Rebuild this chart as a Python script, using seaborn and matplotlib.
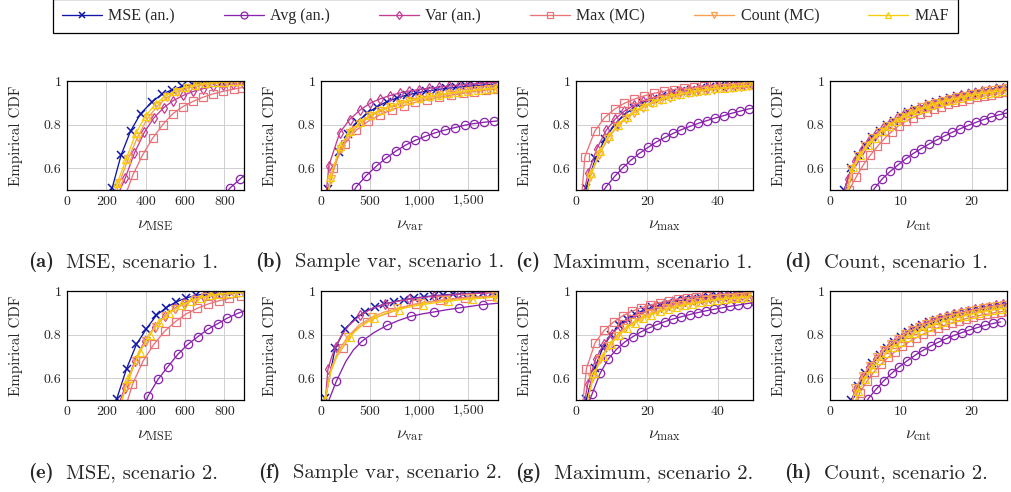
import matplotlib
matplotlib.use("Agg")
import matplotlib.pyplot as plt
import seaborn as sns
from matplotlib.lines import Line2D
from matplotlib.ticker import FuncFormatter

# ---------------------------------------------------------------- data
SERIES = ["mse", "avg", "var", "max", "count", "maf"]
LEGEND_LABELS = ["MSE (an.)", "Avg (an.)", "Var (an.)", "Max (MC)", "Count (MC)", "MAF"]

Y_TICKS = [0.6, 0.8, 1.0]
Y_TICK_LABELS = ["0.6", "0.8", "1"]

XTICKS_MSE = [0, 200, 400, 600, 800]
XTICKS_VAR = [0, 500, 1000, 1500]
XTICKS_MAX = [0, 20, 40]
XTICKS_CNT = [0, 10, 20]

CAPTION_TAGS = ["(a)", "(b)", "(c)", "(d)", "(e)", "(f)", "(g)", "(h)"]
CAPTION_TEXTS = ["MSE, scenario 1.", "Sample var, scenario 1.", "Maximum, scenario 1.",
                 "Count, scenario 1.", "MSE, scenario 2.", "Sample var, scenario 2.",
                 "Maximum, scenario 2.", "Count, scenario 2."]
XLABELS = [r"$\nu_{\mathrm{MSE}}$", r"$\nu_{\mathrm{var}}$", r"$\nu_{\max}$", r"$\nu_{\mathrm{cnt}}$"]

# (a) MSE, scenario 1
a_mse_x = [215, 230, 275, 323, 374, 433, 484, 535, 586, 637, 688, 739, 790, 841, 892]
a_mse_y = [0.47, 0.51, 0.66, 0.77, 0.85, 0.905, 0.94, 0.96, 0.975, 0.985, 0.99, 0.994, 0.996, 0.998, 0.999]
a_avg_x = [780, 830, 880, 930]
a_avg_y = [0.455, 0.51, 0.55, 0.59]
a_var_x = [255, 297, 343, 394, 441, 492, 540, 591, 642, 693, 744, 795, 846, 897]
a_var_y = [0.47, 0.557, 0.67, 0.766, 0.83, 0.878, 0.91, 0.934, 0.952, 0.965, 0.975, 0.982, 0.987, 0.99]
a_max_x = [290, 335, 384, 435, 487, 538, 588, 640, 690, 740, 791, 849, 892]
a_max_y = [0.46, 0.569, 0.66, 0.737, 0.80, 0.85, 0.882, 0.906, 0.925, 0.94, 0.952, 0.963, 0.97]
a_count_x = [240, 265, 310, 360, 410, 460, 510, 560, 610, 660, 710, 760, 810, 860, 910]
a_count_y = [0.46, 0.53, 0.64, 0.745, 0.83, 0.885, 0.925, 0.95, 0.967, 0.978, 0.986, 0.991, 0.994, 0.996, 0.998]
a_maf_x = [235, 255, 300, 350, 400, 450, 500, 550, 600, 650, 700, 750, 800, 850, 900]
a_maf_y = [0.46, 0.53, 0.64, 0.76, 0.84, 0.895, 0.93, 0.955, 0.972, 0.983, 0.99, 0.994, 0.996, 0.998, 0.999]

# (b) sample variance, scenario 1
b_mse_x = [70, 180, 270, 370, 470, 570, 670, 770, 870, 970, 1070, 1170, 1270, 1370, 1470, 1570, 1670, 1770]
b_mse_y = [0.505, 0.674, 0.757, 0.812, 0.852, 0.882, 0.905, 0.922, 0.935, 0.945, 0.953, 0.96, 0.966, 0.971, 0.975, 0.979, 0.982, 0.985]
b_avg_x = [300, 360, 460, 560, 660, 760, 860, 960, 1060, 1160, 1260, 1360, 1460, 1560, 1660, 1760, 1860]
b_avg_y = [0.47, 0.515, 0.566, 0.608, 0.646, 0.678, 0.706, 0.728, 0.746, 0.762, 0.775, 0.786, 0.797, 0.805, 0.811, 0.815, 0.82]
b_var_x = [50, 80, 190, 290, 400, 500, 600, 700, 800, 900, 1000, 1100, 1200, 1300, 1400, 1500, 1600, 1700, 1790]
b_var_y = [0.47, 0.612, 0.762, 0.823, 0.868, 0.898, 0.918, 0.933, 0.945, 0.954, 0.961, 0.967, 0.972, 0.977, 0.981, 0.985, 0.988, 0.991, 0.994]
b_max_x = [60, 120, 240, 360, 480, 600, 720, 840, 960, 1080, 1200, 1320, 1440, 1560, 1680, 1790]
b_max_y = [0.47, 0.60, 0.712, 0.775, 0.815, 0.845, 0.868, 0.887, 0.902, 0.915, 0.926, 0.935, 0.943, 0.951, 0.958, 0.964]
b_count_x = [70, 100, 200, 300, 400, 500, 600, 700, 800, 900, 1000, 1100, 1200, 1300, 1400, 1500, 1600, 1700, 1790]
b_count_y = [0.47, 0.55, 0.69, 0.76, 0.805, 0.838, 0.862, 0.88, 0.895, 0.907, 0.917, 0.926, 0.934, 0.941, 0.947, 0.952, 0.957, 0.962, 0.966]
b_maf_x = [70, 95, 195, 295, 395, 495, 595, 695, 795, 895, 995, 1095, 1195, 1295, 1395, 1495, 1595, 1695, 1785]
b_maf_y = [0.47, 0.56, 0.70, 0.77, 0.812, 0.843, 0.866, 0.884, 0.899, 0.911, 0.921, 0.929, 0.937, 0.944, 0.95, 0.955, 0.96, 0.965, 0.969]

# (c) maximum, scenario 1
c_mse_x = [2.8, 5.5, 8.2, 10.9, 13.6, 16.3, 19.0, 21.7, 24.4, 27.1, 29.8, 32.5, 35.2, 37.9, 40.6, 43.3, 46.0, 48.7]
c_mse_y = [0.508, 0.645, 0.735, 0.80, 0.845, 0.877, 0.90, 0.918, 0.932, 0.943, 0.952, 0.96, 0.966, 0.971, 0.976, 0.98, 0.983, 0.986]
c_avg_x = [6.7, 8.5, 10.9, 13.3, 15.6, 18.0, 20.4, 22.7, 25.1, 27.5, 29.8, 32.2, 34.6, 36.9, 39.3, 41.7, 44.0, 46.4, 48.8, 51.0]
c_avg_y = [0.47, 0.515, 0.562, 0.603, 0.638, 0.669, 0.696, 0.72, 0.741, 0.76, 0.777, 0.792, 0.806, 0.818, 0.83, 0.841, 0.852, 0.862, 0.872, 0.878]
c_var_x = [2.0, 3.4, 5.9, 8.5, 11.1, 13.7, 16.3, 18.9, 21.5, 24.1, 26.7, 29.3, 31.9, 34.5, 37.1, 39.7, 42.3, 44.9, 47.5, 50.1]
c_var_y = [0.47, 0.576, 0.69, 0.773, 0.826, 0.862, 0.888, 0.907, 0.922, 0.934, 0.944, 0.952, 0.959, 0.965, 0.97, 0.975, 0.979, 0.982, 0.985, 0.988]
c_max_x = [1.6, 2.5, 5.3, 8.1, 10.9, 13.7, 16.5, 19.3, 22.1, 24.9, 27.7, 30.5, 33.3, 36.1, 38.9, 41.7, 44.5, 47.3, 50.1]
c_max_y = [0.47, 0.652, 0.77, 0.833, 0.871, 0.898, 0.917, 0.932, 0.944, 0.953, 0.961, 0.967, 0.972, 0.977, 0.981, 0.984, 0.987, 0.989, 0.991]
c_count_x = [3.0, 4.0, 6.5, 9.0, 11.5, 14.0, 16.5, 19.0, 21.5, 24.0, 26.5, 29.0, 31.5, 34.0, 36.5, 39.0, 41.5, 44.0, 46.5, 49.0]
c_count_y = [0.47, 0.56, 0.66, 0.735, 0.787, 0.826, 0.855, 0.878, 0.897, 0.912, 0.924, 0.934, 0.943, 0.95, 0.956, 0.961, 0.966, 0.97, 0.974, 0.977]
c_maf_x = [3.0, 4.3, 6.8, 9.3, 11.8, 14.3, 16.8, 19.3, 21.8, 24.3, 26.8, 29.3, 31.8, 34.3, 36.8, 39.3, 41.8, 44.3, 46.8, 49.3]
c_maf_y = [0.47, 0.58, 0.68, 0.75, 0.80, 0.837, 0.865, 0.887, 0.905, 0.919, 0.931, 0.94, 0.948, 0.955, 0.961, 0.966, 0.97, 0.974, 0.977, 0.98]

# (d) count, scenario 1
d_mse_x = [2, 3, 4, 5, 6, 7, 8, 9, 10, 11, 12, 13, 14, 15, 16, 17, 18, 19, 20, 21, 22, 23, 24, 25]
d_mse_y = [0.50, 0.60, 0.66, 0.705, 0.742, 0.772, 0.797, 0.818, 0.84, 0.856, 0.87, 0.883, 0.895, 0.905, 0.914, 0.922, 0.93, 0.937, 0.944, 0.95, 0.956, 0.961, 0.966, 0.97]
d_avg_x = [5.5, 6.3, 7.4, 8.5, 9.6, 10.7, 11.8, 12.9, 14.0, 15.1, 16.2, 17.3, 18.4, 19.5, 20.6, 21.7, 22.8, 23.9, 25.0]
d_avg_y = [0.47, 0.508, 0.552, 0.585, 0.615, 0.643, 0.668, 0.69, 0.711, 0.73, 0.748, 0.765, 0.781, 0.796, 0.81, 0.823, 0.835, 0.845, 0.853]
d_var_x = [1.8, 2.5, 3.5, 4.5, 5.5, 6.5, 7.5, 8.5, 9.5, 10.5, 11.5, 12.5, 13.5, 14.5, 15.5, 16.5, 17.5, 18.5, 19.5, 20.5, 21.5, 22.5, 23.5, 24.5]
d_var_y = [0.47, 0.55, 0.635, 0.685, 0.725, 0.758, 0.786, 0.809, 0.83, 0.849, 0.864, 0.877, 0.89, 0.9, 0.91, 0.918, 0.926, 0.934, 0.941, 0.947, 0.953, 0.958, 0.963, 0.968]
d_max_x = [2.7, 3.7, 4.7, 5.7, 6.7, 7.7, 8.7, 9.7, 10.7, 11.7, 12.7, 13.7, 14.7, 15.7, 16.7, 17.7, 18.7, 19.7, 20.7, 21.7, 22.7, 23.7, 24.7]
d_max_y = [0.50, 0.56, 0.615, 0.66, 0.70, 0.736, 0.768, 0.795, 0.815, 0.832, 0.847, 0.86, 0.872, 0.883, 0.893, 0.902, 0.91, 0.918, 0.925, 0.932, 0.938, 0.944, 0.95]
d_count_x = [2.2, 3, 4, 5, 6, 7, 8, 9, 10, 11, 12, 13, 14, 15, 16, 17, 18, 19, 20, 21, 22, 23, 24, 25]
d_count_y = [0.47, 0.595, 0.655, 0.70, 0.737, 0.767, 0.792, 0.814, 0.835, 0.852, 0.866, 0.879, 0.891, 0.901, 0.91, 0.918, 0.926, 0.933, 0.94, 0.946, 0.952, 0.957, 0.962, 0.967]
d_maf_x = [2.3, 3.3, 4.3, 5.3, 6.3, 7.3, 8.3, 9.3, 10.3, 11.3, 12.3, 13.3, 14.3, 15.3, 16.3, 17.3, 18.3, 19.3, 20.3, 21.3, 22.3, 23.3, 24.3]
d_maf_y = [0.47, 0.605, 0.66, 0.705, 0.74, 0.77, 0.795, 0.816, 0.835, 0.851, 0.865, 0.877, 0.888, 0.898, 0.907, 0.915, 0.922, 0.929, 0.935, 0.941, 0.946, 0.951, 0.956]

# (e) MSE, scenario 2
e_mse_x = [235, 252, 303, 353, 404, 454, 505, 555, 606, 656, 707, 757, 808, 858]
e_mse_y = [0.46, 0.503, 0.644, 0.755, 0.827, 0.888, 0.924, 0.95, 0.968, 0.98, 0.988, 0.993, 0.996, 0.998]
e_avg_x = [390, 412, 463, 513, 564, 614, 665, 715, 766, 816, 867, 920]
e_avg_y = [0.47, 0.518, 0.595, 0.653, 0.71, 0.755, 0.79, 0.824, 0.85, 0.876, 0.897, 0.915]
e_var_x = [255, 294, 345, 395, 446, 496, 547, 597, 648, 698, 749, 799, 850, 900]
e_var_y = [0.46, 0.556, 0.68, 0.77, 0.835, 0.885, 0.92, 0.945, 0.962, 0.974, 0.983, 0.99, 0.994, 0.996]
e_max_x = [295, 333, 387, 441, 496, 552, 606, 661, 716, 771, 826, 883]
e_max_y = [0.46, 0.572, 0.679, 0.755, 0.815, 0.86, 0.895, 0.92, 0.94, 0.955, 0.966, 0.975]
e_count_x = [268, 300, 350, 400, 450, 500, 550, 600, 650, 700, 750, 800, 850, 900]
e_count_y = [0.46, 0.56, 0.68, 0.77, 0.837, 0.885, 0.918, 0.942, 0.96, 0.972, 0.981, 0.987, 0.991, 0.994]
e_maf_x = [265, 311, 370, 420, 470, 521, 580, 630, 680, 730, 780, 830, 880]
e_maf_y = [0.46, 0.60, 0.72, 0.80, 0.858, 0.90, 0.935, 0.955, 0.97, 0.98, 0.987, 0.992, 0.995]

# (f) sample variance, scenario 2
f_mse_x = [45, 145, 245, 345, 445, 545, 645, 745, 845, 945, 1045, 1145, 1245, 1345, 1445, 1545, 1645, 1745]
f_mse_y = [0.51, 0.74, 0.825, 0.873, 0.905, 0.925, 0.94, 0.951, 0.96, 0.967, 0.973, 0.978, 0.982, 0.985, 0.988, 0.99, 0.992, 0.994]
f_avg_x = [55, 155, 250, 330, 415, 540, 670, 790, 915, 1030, 1150, 1280, 1405, 1525, 1650, 1780, 1900]
f_avg_y = [0.47, 0.585, 0.675, 0.73, 0.769, 0.81, 0.842, 0.865, 0.884, 0.895, 0.904, 0.914, 0.922, 0.93, 0.938, 0.943, 0.946]
f_var_x = [45, 70, 110, 150, 200, 280, 400, 520, 650, 780, 900, 1030, 1150, 1280, 1400, 1530, 1650, 1780, 1900]
f_var_y = [0.50, 0.64, 0.70, 0.745, 0.79, 0.84, 0.89, 0.92, 0.94, 0.953, 0.963, 0.97, 0.976, 0.981, 0.985, 0.988, 0.99, 0.992, 0.993]
f_max_x = [40, 100, 160, 220, 330, 466, 590, 719, 840, 962, 1090, 1209, 1340, 1462, 1590, 1709, 1900]
f_max_y = [0.50, 0.64, 0.70, 0.74, 0.815, 0.858, 0.884, 0.904, 0.925, 0.94, 0.95, 0.958, 0.965, 0.97, 0.973, 0.975, 0.978]
f_count_x = [45, 100, 170, 270, 390, 520, 640, 770, 890, 1020, 1140, 1270, 1390, 1520, 1640, 1770, 1900]
f_count_y = [0.50, 0.64, 0.72, 0.79, 0.845, 0.88, 0.903, 0.92, 0.933, 0.943, 0.951, 0.958, 0.964, 0.969, 0.973, 0.977, 0.98]
f_maf_x = [40, 100, 170, 290, 410, 540, 660, 790, 910, 1040, 1160, 1290, 1410, 1540, 1660, 1790, 1900]
f_maf_y = [0.505, 0.63, 0.71, 0.79, 0.84, 0.875, 0.898, 0.915, 0.928, 0.938, 0.946, 0.953, 0.959, 0.964, 0.968, 0.972, 0.975]

# (g) maximum, scenario 2
g_mse_x = [2.95, 5.3, 7.6, 9.9, 12.2, 14.5, 16.8, 19.1, 21.4, 23.7, 26.0, 28.3, 30.6, 32.9, 35.2, 37.5, 39.8, 42.1, 44.4, 46.7, 49.0]
g_mse_y = [0.503, 0.648, 0.74, 0.80, 0.843, 0.873, 0.895, 0.912, 0.925, 0.936, 0.945, 0.952, 0.958, 0.964, 0.968, 0.972, 0.976, 0.979, 0.982, 0.984, 0.986]
g_avg_x = [3.2, 4.5, 6.8, 9.1, 11.4, 13.7, 16.0, 18.3, 20.6, 22.9, 25.2, 27.5, 29.8, 32.1, 34.4, 36.7, 39.0, 41.3, 43.6, 45.9, 48.2, 50.5]
g_avg_y = [0.47, 0.526, 0.622, 0.688, 0.732, 0.765, 0.79, 0.812, 0.83, 0.846, 0.86, 0.872, 0.882, 0.892, 0.901, 0.909, 0.916, 0.923, 0.93, 0.936, 0.942, 0.948]
g_var_x = [2.2, 3.3, 5.6, 7.9, 10.2, 12.5, 14.8, 17.1, 19.4, 21.7, 24.0, 26.3, 28.6, 30.9, 33.2, 35.5, 37.8, 40.1, 42.4, 44.7, 47.0, 49.3]
g_var_y = [0.47, 0.572, 0.69, 0.758, 0.805, 0.84, 0.866, 0.887, 0.903, 0.916, 0.927, 0.937, 0.945, 0.952, 0.958, 0.963, 0.968, 0.972, 0.976, 0.979, 0.982, 0.984]
g_max_x = [1.8, 2.95, 5.4, 8.0, 10.6, 13.2, 15.8, 18.4, 21.0, 23.6, 26.2, 28.8, 31.4, 34.0, 36.6, 39.2, 41.8, 44.4, 47.0, 49.6]
g_max_y = [0.47, 0.644, 0.763, 0.82, 0.858, 0.886, 0.907, 0.923, 0.936, 0.947, 0.956, 0.963, 0.969, 0.974, 0.978, 0.982, 0.985, 0.988, 0.99, 0.992]
g_count_x = [3.0, 4.6, 6.9, 9.2, 11.5, 13.8, 16.1, 18.4, 20.7, 23.0, 25.3, 27.6, 29.9, 32.2, 34.5, 36.8, 39.1, 41.4, 43.7, 46.0, 48.3]
g_count_y = [0.47, 0.60, 0.69, 0.75, 0.795, 0.83, 0.856, 0.877, 0.894, 0.908, 0.92, 0.93, 0.938, 0.945, 0.951, 0.957, 0.962, 0.966, 0.97, 0.973, 0.976]
g_maf_x = [2.8, 5.2, 7.5, 9.8, 12.1, 14.4, 16.7, 19.0, 21.3, 23.6, 25.9, 28.2, 30.5, 32.8, 35.1, 37.4, 39.7, 42.0, 44.3, 46.6, 48.9]
g_maf_y = [0.47, 0.622, 0.70, 0.755, 0.797, 0.83, 0.855, 0.875, 0.892, 0.906, 0.917, 0.927, 0.935, 0.942, 0.949, 0.954, 0.959, 0.963, 0.967, 0.97, 0.973]

# (h) count, scenario 2
h_mse_x = [3, 4, 5, 6, 7, 8, 9, 10, 11, 12, 13, 14, 15, 16, 17, 18, 19, 20, 21, 22, 23, 24, 25]
h_mse_y = [0.50, 0.565, 0.622, 0.668, 0.706, 0.738, 0.765, 0.79, 0.81, 0.828, 0.843, 0.856, 0.867, 0.877, 0.886, 0.894, 0.901, 0.908, 0.914, 0.92, 0.926, 0.931, 0.936]
h_avg_x = [4.8, 5.4, 6.5, 7.6, 8.7, 9.8, 10.9, 12.0, 13.1, 14.2, 15.3, 16.4, 17.5, 18.6, 19.7, 20.8, 21.9, 23.0, 24.1]
h_avg_y = [0.47, 0.506, 0.549, 0.588, 0.622, 0.653, 0.68, 0.705, 0.727, 0.747, 0.765, 0.781, 0.796, 0.809, 0.821, 0.832, 0.842, 0.851, 0.858]
h_var_x = [2.9, 3.5, 4.5, 5.5, 6.5, 7.5, 8.5, 9.5, 10.5, 11.5, 12.5, 13.5, 14.5, 15.5, 16.5, 17.5, 18.5, 19.5, 20.5, 21.5, 22.5, 23.5, 24.5, 25.5]
h_var_y = [0.47, 0.545, 0.60, 0.65, 0.69, 0.724, 0.754, 0.78, 0.802, 0.821, 0.838, 0.852, 0.864, 0.875, 0.885, 0.894, 0.902, 0.909, 0.916, 0.922, 0.928, 0.934, 0.939, 0.943]
h_max_x = [3.7, 4.2, 5.2, 6.2, 7.2, 8.2, 9.2, 10.2, 11.2, 12.2, 13.2, 14.2, 15.2, 16.2, 17.2, 18.2, 19.2, 20.2, 21.2, 22.2, 23.2, 24.2, 25.2]
h_max_y = [0.47, 0.534, 0.585, 0.628, 0.664, 0.695, 0.722, 0.746, 0.767, 0.786, 0.803, 0.818, 0.831, 0.843, 0.854, 0.864, 0.873, 0.881, 0.888, 0.894, 0.90, 0.905, 0.91]
h_count_x = [3.0, 3.6, 4.6, 5.6, 6.6, 7.6, 8.6, 9.6, 10.6, 11.6, 12.6, 13.6, 14.6, 15.6, 16.6, 17.6, 18.6, 19.6, 20.6, 21.6, 22.6, 23.6, 24.6]
h_count_y = [0.47, 0.557, 0.61, 0.657, 0.696, 0.729, 0.757, 0.782, 0.803, 0.821, 0.837, 0.85, 0.862, 0.873, 0.883, 0.892, 0.9, 0.907, 0.914, 0.92, 0.926, 0.931, 0.936]
h_maf_x = [3.4, 4.0, 5.0, 6.0, 7.0, 8.0, 9.0, 10.0, 11.0, 12.0, 13.0, 14.0, 15.0, 16.0, 17.0, 18.0, 19.0, 20.0, 21.0, 22.0, 23.0, 24.0, 25.0]
h_maf_y = [0.47, 0.54, 0.598, 0.645, 0.684, 0.716, 0.744, 0.768, 0.789, 0.807, 0.823, 0.837, 0.849, 0.86, 0.87, 0.879, 0.887, 0.894, 0.901, 0.907, 0.913, 0.919, 0.924]

# ---------------------------------------------------------------- style
COLORS = {"mse": "#1016a8", "avg": "#8a22ad", "var": "#c43d92",
          "max": "#ea7379", "count": "#f8a050", "maf": "#f7cc0a"}
MARKERS = {"mse": "x", "avg": "o", "var": "d", "max": "s", "count": "v", "maf": "^"}
MSIZE = {"mse": 5.2, "avg": 6.0, "var": 5.4, "max": 6.4, "count": 5.8, "maf": 5.8}
MEW = {"mse": 1.1, "avg": 0.9, "var": 0.9, "max": 0.9, "count": 0.9, "maf": 0.9}
LEG_MSIZE = {"mse": 4.2, "avg": 5.0, "var": 4.4, "max": 5.0, "count": 4.8, "maf": 4.8}

# sparse marker placement for the curves of panel (f)
MARK_EVERY = {
    ("f", "avg"): [1, 4, 6, 8, 10, 12, 14],
    ("f", "var"): [1, 3, 6, 8, 10, 12, 14, 16],
    ("f", "max"): [3, 5, 7, 9, 11, 13, 15],
    ("f", "count"): [3, 5, 7, 9, 11, 13, 15],
    ("f", "maf"): [0, 3, 5, 7, 9, 11, 13, 15],
}

sns.set_theme(style="whitegrid")
plt.rcParams["font.family"] = ["cmr10", "DejaVu Serif"]
plt.rcParams["mathtext.fontset"] = "cm"
plt.rcParams["axes.unicode_minus"] = False
plt.rcParams["axes.formatter.use_mathtext"] = True

fig = plt.figure(figsize=(10.12, 4.92), dpi=100)
fig.patch.set_facecolor("white")

W, H = 1012.0, 492.0
col_left = [67, 321, 576, 830]
col_width = 177
row_top = [81, 291]
ax_height = 109
caption_cx = [123, 380, 634, 886]
caption_y = [262, 473]
CAPTION_SIZE = 14.8

panel_keys = ["a", "b", "c", "d", "e", "f", "g", "h"]
xlims = [(0, 900), (0, 1800), (0, 50), (0, 25)]
xticks = [XTICKS_MSE, XTICKS_VAR, XTICKS_MAX, XTICKS_CNT]

data = globals()
thousands = FuncFormatter(lambda v, p: f"{v:,.0f}")
renderer = fig.canvas.get_renderer()

for i, key in enumerate(panel_keys):
    r, c = divmod(i, 4)
    rect = [col_left[c] / W, 1 - (row_top[r] + ax_height) / H, col_width / W, ax_height / H]
    ax = fig.add_axes(rect)
    ax.set_facecolor("white")

    for s in SERIES:
        xs = data[f"{key}_{s}_x"]
        ys = data[f"{key}_{s}_y"]
        kws = {}
        if (key, s) in MARK_EVERY:
            kws["markevery"] = MARK_EVERY[(key, s)]
        sns.lineplot(x=xs, y=ys, ax=ax, sort=False, estimator=None,
                     color=COLORS[s], linewidth=0.95,
                     marker=MARKERS[s], markersize=MSIZE[s],
                     markerfacecolor="none", markeredgecolor=COLORS[s],
                     markeredgewidth=MEW[s], **kws)

    ax.set_xlim(*xlims[c])
    ax.set_ylim(0.5, 1.0)
    ax.set_xticks(xticks[c])
    ax.xaxis.set_major_formatter(thousands)
    ax.set_yticks(Y_TICKS)
    ax.set_yticklabels(Y_TICK_LABELS)
    ax.tick_params(axis="both", labelsize=10, direction="in", length=2.5,
                   width=0.6, color="black", pad=4)
    ax.grid(True, color="#cfcfcf", linewidth=0.7)
    for sp in ax.spines.values():
        sp.set_color("black")
        sp.set_linewidth(0.9)
    ax.set_xlabel(XLABELS[c], fontsize=12.5, labelpad=7)
    ax.set_ylabel("Empirical CDF", fontsize=10.8, labelpad=15)

    # caption: bold tag followed by regular text, centred under the subfigure
    ty = 1 - caption_y[r] / H
    t_tag = fig.text(0, ty, CAPTION_TAGS[i], family="cmb10", fontsize=CAPTION_SIZE,
                     ha="left", va="center")
    t_body = fig.text(0, ty, CAPTION_TEXTS[i], fontsize=CAPTION_SIZE,
                      ha="left", va="center")
    w_tag = t_tag.get_window_extent(renderer).width
    w_body = t_body.get_window_extent(renderer).width
    gap = 0.6 * CAPTION_SIZE * 100 / 72
    x0 = caption_cx[c] - (w_tag + gap + w_body) / 2
    t_tag.set_x(x0 / W)
    t_body.set_x((x0 + w_tag + gap) / W)

handles = [Line2D([0], [0], color=COLORS[s], linewidth=0.95, marker=MARKERS[s],
                  markersize=LEG_MSIZE[s], markerfacecolor="none",
                  markeredgecolor=COLORS[s], markeredgewidth=MEW[s]) for s in SERIES]
leg = fig.legend(handles, LEGEND_LABELS, ncol=6, mode="expand",
                 loc="lower left", borderaxespad=0,
                 bbox_to_anchor=(53 / W, 1 - 33 / H, 905 / W, 30 / H),
                 frameon=True, fancybox=False, framealpha=1, edgecolor="black",
                 handlelength=2.5, handletextpad=0.4, borderpad=0.55,
                 prop={"family": "Liberation Serif", "size": 11.5})
leg.get_frame().set_linewidth(0.9)

fig.savefig("out.png", dpi=100, facecolor="white")
